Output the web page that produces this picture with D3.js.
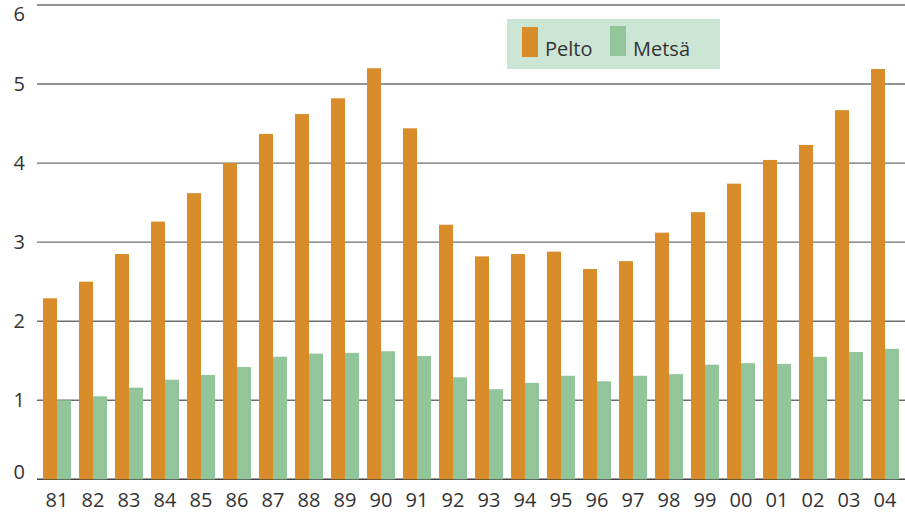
<!DOCTYPE html>
<html>
<head>
<meta charset="utf-8">
<script src="https://cdn.jsdelivr.net/npm/d3@7"></script>
<style>
  body { margin: 0; background: #fff; }
  text { font-family: "Open Sans", "Noto Sans", sans-serif; fill: #333; }
</style>
</head>
<body>
<div id="visualization"></div>
<script>
// Data
const years = ["81","82","83","84","85","86","87","88","89","90","91","92",
               "93","94","95","96","97","98","99","00","01","02","03","04"];
const pelto = [2.29, 2.50, 2.85, 3.26, 3.62, 4.00, 4.37, 4.62, 4.82, 5.20, 4.44, 3.22,
               2.82, 2.85, 2.88, 2.66, 2.76, 3.12, 3.38, 3.74, 4.04, 4.23, 4.67, 5.19];
const metsa = [1.00, 1.05, 1.16, 1.26, 1.32, 1.42, 1.55, 1.59, 1.60, 1.62, 1.56, 1.29,
               1.14, 1.22, 1.31, 1.24, 1.31, 1.33, 1.45, 1.47, 1.46, 1.55, 1.61, 1.65];
const seriesNames = ["Pelto", "Metsä"];
const yTicks = [0, 1, 2, 3, 4, 5, 6];

const colors = { "Pelto": "#d98c2a", "Metsä": "#92c59a" };

const width = 905, height = 514;

const svg = d3.select("#visualization")
              .append("svg")
              .attr("width", width)
              .attr("height", height);

// Scales
const x = d3.scaleBand()
            .domain(years)
            .range([39, 903])
            .paddingInner(8 / 36)
            .paddingOuter(4 / 36);

const x1 = d3.scaleBand()
             .domain(seriesNames)
             .range([0, x.bandwidth()]);

const y = d3.scaleLinear()
            .domain([0, 6])
            .range([479.3, 5]);

// Grid lines
svg.append("g")
   .selectAll("line")
   .data(yTicks)
   .enter()
   .append("line")
   .attr("x1", 37)
   .attr("x2", 905)
   .attr("y1", d => y(d))
   .attr("y2", d => y(d))
   .style("stroke", d => d === 0 ? "#444" : "#6e6e6e")
   .style("stroke-width", 1.4);

// Y labels (top and bottom pushed inside the frame)
svg.append("g")
   .selectAll("text")
   .data(yTicks)
   .enter()
   .append("text")
   .attr("x", 25)
   .attr("y", d => d === 6 ? y(d) + 8.5 : d === 0 ? y(d) - 7.5 : y(d))
   .attr("dy", "0.35em")
   .attr("text-anchor", "end")
   .style("font-size", "20px")
   .text(d => d);

// Bars
const rows = years.map((yr, i) => ({ year: yr, values: [
  { key: "Pelto", value: pelto[i] },
  { key: "Metsä", value: metsa[i] }
]}));

const groups = svg.append("g")
   .selectAll("g")
   .data(rows)
   .enter()
   .append("g")
   .attr("transform", d => `translate(${x(d.year)},0)`);

groups.selectAll("rect")
   .data(d => d.values)
   .enter()
   .append("rect")
   .attr("x", d => x1(d.key))
   .attr("y", d => y(d.value))
   .attr("width", x1.bandwidth())
   .attr("height", d => y(0) - y(d.value))
   .style("fill", d => colors[d.key]);

// X labels
svg.append("g")
   .selectAll("text")
   .data(years)
   .enter()
   .append("text")
   .attr("x", d => x(d) + x.bandwidth() / 2)
   .attr("y", 507)
   .attr("text-anchor", "middle")
   .style("font-size", "20px")
   .text(d => d);

// Legend
const legend = svg.append("g");
legend.append("rect")
      .attr("x", 507)
      .attr("y", 19)
      .attr("width", 213)
      .attr("height", 50)
      .style("fill", "#cce6d6");

const legendX = [522, 610];
const legendY = [27, 26];
seriesNames.forEach(function(name, i) {
  legend.append("rect")
        .attr("x", legendX[i])
        .attr("y", legendY[i])
        .attr("width", 16)
        .attr("height", 30)
        .style("fill", colors[name]);
  legend.append("text")
        .attr("x", legendX[i] + 23)
        .attr("y", 56)
        .style("font-size", "20px")
        .text(name);
});
</script>
</body>
</html>
